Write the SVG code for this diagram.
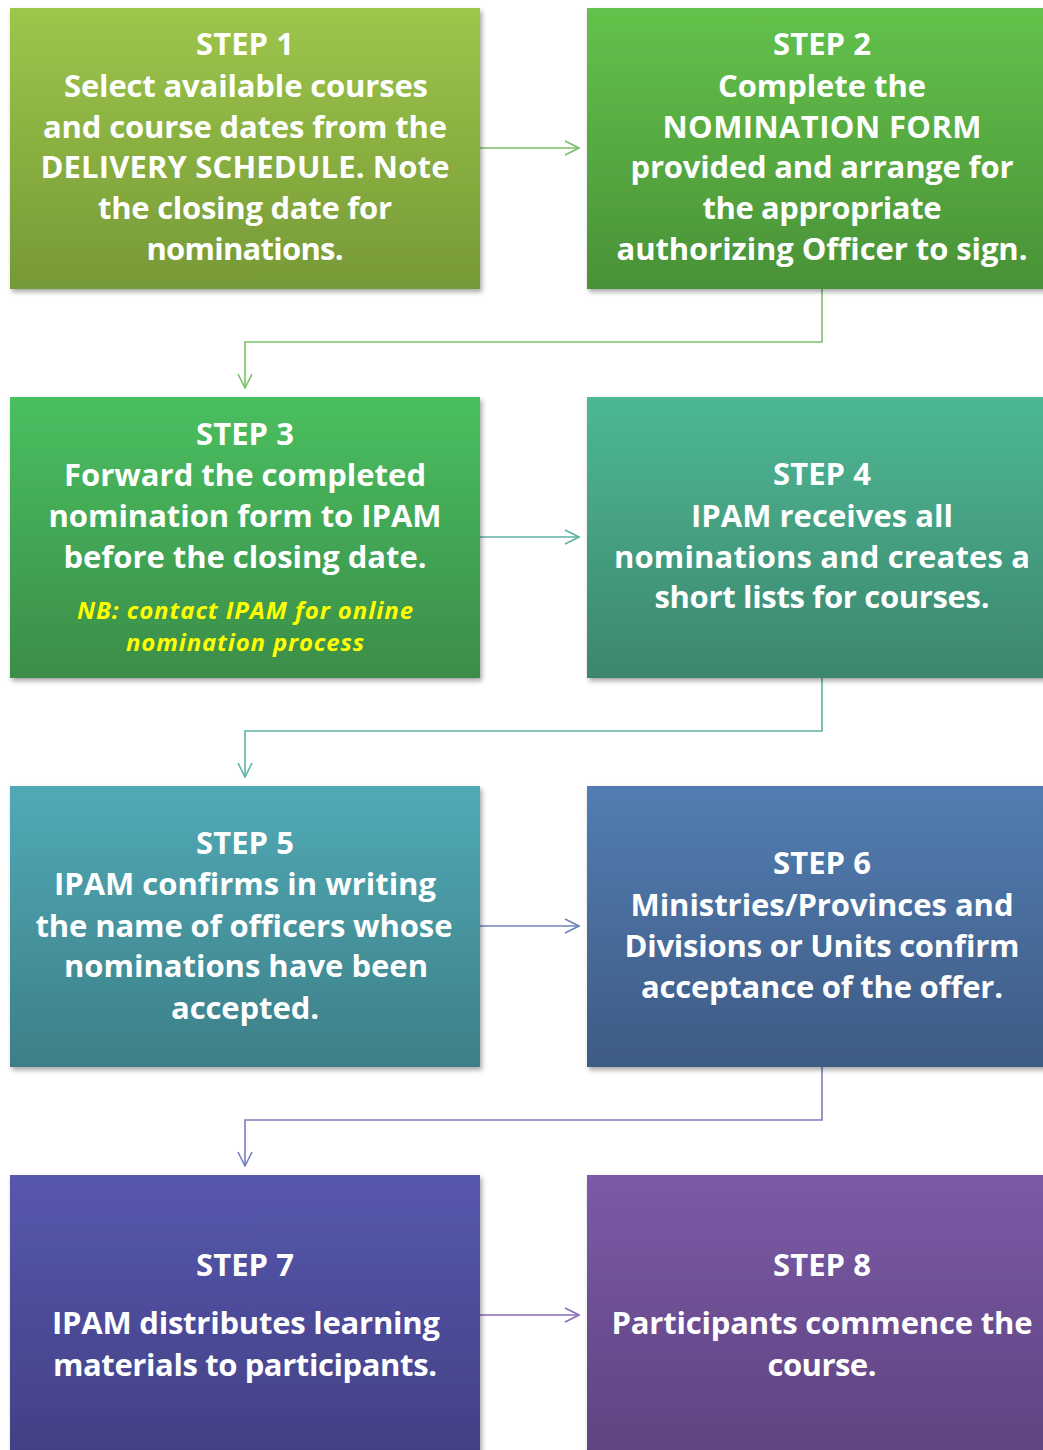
<svg xmlns="http://www.w3.org/2000/svg" width="1043" height="1450" viewBox="0 0 1043 1450">
  <defs>
    <filter id="shadow" x="-5%" y="-5%" width="115%" height="115%">
      <feDropShadow dx="2" dy="3" stdDeviation="2.5" flood-color="#000" flood-opacity="0.35"/>
    </filter>
    <linearGradient id="g1" x1="0" y1="0" x2="0" y2="1"><stop offset="0" stop-color="#9dc64b"/><stop offset="1" stop-color="#769937"/></linearGradient>
    <linearGradient id="g2" x1="0" y1="0" x2="0" y2="1"><stop offset="0" stop-color="#63c24b"/><stop offset="1" stop-color="#4a9137"/></linearGradient>
    <linearGradient id="g3" x1="0" y1="0" x2="0" y2="1"><stop offset="0" stop-color="#4abf60"/><stop offset="1" stop-color="#3b8d49"/></linearGradient>
    <linearGradient id="g4" x1="0" y1="0" x2="0" y2="1"><stop offset="0" stop-color="#4db894"/><stop offset="1" stop-color="#3c866e"/></linearGradient>
    <linearGradient id="g5" x1="0" y1="0" x2="0" y2="1"><stop offset="0" stop-color="#50aab6"/><stop offset="1" stop-color="#3d7f87"/></linearGradient>
    <linearGradient id="g6" x1="0" y1="0" x2="0" y2="1"><stop offset="0" stop-color="#527db1"/><stop offset="1" stop-color="#3e5b84"/></linearGradient>
    <linearGradient id="g7" x1="0" y1="0" x2="0" y2="1"><stop offset="0" stop-color="#5658ae"/><stop offset="1" stop-color="#423f84"/></linearGradient>
    <linearGradient id="g8" x1="0" y1="0" x2="0" y2="1"><stop offset="0" stop-color="#7c5aa7"/><stop offset="1" stop-color="#5d437f"/></linearGradient>
    <marker id="arr1" viewBox="0 0 16 16" refX="15" refY="8" markerWidth="16" markerHeight="16" markerUnits="userSpaceOnUse" orient="auto"><path d="M1,1 L15,8 L1,15" fill="none" stroke="#79c26a" stroke-width="1.6"/></marker>
    <marker id="arr2" viewBox="0 0 16 16" refX="15" refY="8" markerWidth="16" markerHeight="16" markerUnits="userSpaceOnUse" orient="auto"><path d="M1,1 L15,8 L1,15" fill="none" stroke="#5fb2a6" stroke-width="1.6"/></marker>
    <marker id="arr3" viewBox="0 0 16 16" refX="15" refY="8" markerWidth="16" markerHeight="16" markerUnits="userSpaceOnUse" orient="auto"><path d="M1,1 L15,8 L1,15" fill="none" stroke="#6f84bb" stroke-width="1.6"/></marker>
    <marker id="arr4" viewBox="0 0 16 16" refX="15" refY="8" markerWidth="16" markerHeight="16" markerUnits="userSpaceOnUse" orient="auto"><path d="M1,1 L15,8 L1,15" fill="none" stroke="#8a6db5" stroke-width="1.6"/></marker>
  </defs>
  <style>
    .box { filter: url(#shadow); }
    .t { font-family: "Open Sans", Lato, "Liberation Sans", sans-serif; font-weight: 700; font-size: 31px; fill: #ffffff; text-anchor: middle; }
    .nb { font-family: "Open Sans", Lato, "Liberation Sans", sans-serif; font-weight: 700; font-style: italic; font-size: 24px; fill: #ffff00; text-anchor: middle; }
    .c { fill: none; stroke-width: 1.6; }
  </style>
  <rect width="1043" height="1450" fill="#ffffff"/>

  <g id="connectors">
    <path class="c" d="M480,148 H579" stroke="#79c26a" marker-end="url(#arr1)"/>
    <path class="c" d="M822,289 V342 H245 V388" stroke="#79c26a" marker-end="url(#arr1)"/>
    <path class="c" d="M480,537 H579" stroke="#5fb2a6" marker-end="url(#arr2)"/>
    <path class="c" d="M822,678 V731 H245 V777" stroke="#5fb2a6" marker-end="url(#arr2)"/>
    <path class="c" d="M480,926 H579" stroke="#6f84bb" marker-end="url(#arr3)"/>
    <path class="c" d="M822,1067 V1120 H245 V1166" stroke="#7a7dbd" marker-end="url(#arr3)"/>
    <path class="c" d="M480,1315 H579" stroke="#8a6db5" marker-end="url(#arr4)"/>
  </g>

  <g id="step1">
    <rect class="box" x="10" y="8" width="470" height="281" fill="url(#g1)"/>
    <text class="t" x="245" y="55" textLength="98">STEP 1</text>
    <text class="t" x="246" y="97" textLength="364">Select available courses</text>
    <text class="t" x="245" y="138" textLength="404">and course dates from the</text>
    <text class="t" x="245" y="178" textLength="409">DELIVERY SCHEDULE. Note</text>
    <text class="t" x="245" y="219" textLength="294">the closing date for</text>
    <text class="t" x="245" y="260" textLength="197">nominations.</text>
  </g>

  <g id="step2">
    <rect class="box" x="587" y="8" width="470" height="281" fill="url(#g2)"/>
    <text class="t" x="822" y="55" textLength="98">STEP 2</text>
    <text class="t" x="822" y="97" textLength="208">Complete the</text>
    <text class="t" x="822" y="138" textLength="319">NOMINATION FORM</text>
    <text class="t" x="822" y="178" textLength="383">provided and arrange for</text>
    <text class="t" x="822" y="219" textLength="239">the appropriate</text>
    <text class="t" x="822" y="260" textLength="411">authorizing Officer to sign.</text>
  </g>

  <g id="step3">
    <rect class="box" x="10" y="397" width="470" height="281" fill="url(#g3)"/>
    <text class="t" x="245" y="445" textLength="98">STEP 3</text>
    <text class="t" x="245" y="486" textLength="362">Forward the completed</text>
    <text class="t" x="245" y="527" textLength="393">nomination form to IPAM</text>
    <text class="t" x="245" y="568" textLength="363">before the closing date.</text>
    <text class="nb" x="245" y="619" textLength="336">NB: contact IPAM for online</text>
    <text class="nb" x="245" y="651" textLength="238">nomination process</text>
  </g>

  <g id="step4">
    <rect class="box" x="587" y="397" width="470" height="281" fill="url(#g4)"/>
    <text class="t" x="822" y="485" textLength="98">STEP 4</text>
    <text class="t" x="822" y="527" textLength="262">IPAM receives all</text>
    <text class="t" x="822" y="568" textLength="416">nominations and creates a</text>
    <text class="t" x="822" y="608" textLength="335">short lists for courses.</text>
  </g>

  <g id="step5">
    <rect class="box" x="10" y="786" width="470" height="281" fill="url(#g5)"/>
    <text class="t" x="245" y="854" textLength="98">STEP 5</text>
    <text class="t" x="245" y="895" textLength="382">IPAM confirms in writing</text>
    <text class="t" x="244" y="937" textLength="417">the name of officers whose</text>
    <text class="t" x="246" y="977" textLength="364">nominations have been</text>
    <text class="t" x="245" y="1019" textLength="148">accepted.</text>
  </g>

  <g id="step6">
    <rect class="box" x="587" y="786" width="470" height="281" fill="url(#g6)"/>
    <text class="t" x="822" y="874" textLength="98">STEP 6</text>
    <text class="t" x="822" y="916" textLength="383">Ministries/Provinces and</text>
    <text class="t" x="822" y="957" textLength="395">Divisions or Units confirm</text>
    <text class="t" x="822" y="998" textLength="362">acceptance of the offer.</text>
  </g>

  <g id="step7">
    <rect class="box" x="10" y="1175" width="470" height="285" fill="url(#g7)"/>
    <text class="t" x="245" y="1276" textLength="98">STEP 7</text>
    <text class="t" x="246" y="1334" textLength="388">IPAM distributes learning</text>
    <text class="t" x="245" y="1376" textLength="384">materials to participants.</text>
  </g>

  <g id="step8">
    <rect class="box" x="587" y="1175" width="470" height="285" fill="url(#g8)"/>
    <text class="t" x="822" y="1276" textLength="98">STEP 8</text>
    <text class="t" x="822" y="1334" textLength="421">Participants commence the</text>
    <text class="t" x="822" y="1376" textLength="109">course.</text>
  </g>
</svg>
